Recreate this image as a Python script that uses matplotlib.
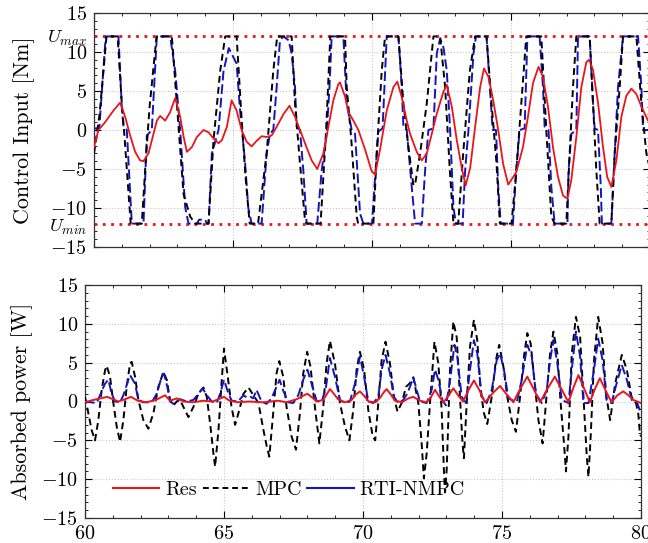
import matplotlib
matplotlib.use('Agg')
from matplotlib import pyplot as plt
from matplotlib.lines import Line2D
from matplotlib.ticker import MultipleLocator

plt.rcParams['font.family'] = 'serif'
plt.rcParams['font.serif'] = ['cmr10']
plt.rcParams['mathtext.fontset'] = 'cm'
plt.rcParams['axes.formatter.use_mathtext'] = True

# ---- top panel: control input [Nm] ----
t_u_res = [60.0, 60.16, 60.4, 60.7, 60.94, 61.12, 61.3, 61.48, 61.66, 61.78, 61.96, 62.14, 62.26, 62.38,
           62.56, 62.74, 62.92, 63.1, 63.22, 63.34, 63.52, 63.7, 63.94, 64.12, 64.3, 64.48, 64.6, 64.78,
           64.95, 65.13, 65.31, 65.49, 65.67, 65.85, 66.03, 66.21, 66.39, 66.57, 66.81, 67.03, 67.23,
           67.41, 67.59, 67.83, 68.03, 68.25, 68.43, 68.61, 68.79, 68.85, 69.03, 69.15, 69.33, 69.51,
           69.75, 69.99, 70.11, 70.29, 70.53, 70.77, 70.91, 71.07, 71.25, 71.37, 71.61, 71.79, 71.97,
           72.15, 72.33, 72.57, 72.69, 72.87, 73.05, 73.23, 73.37, 73.53, 73.71, 73.89, 74.03, 74.19,
           74.36, 74.54, 74.72, 74.9, 75.19, 75.43, 75.61, 75.79, 75.99, 76.15, 76.33, 76.51, 76.69,
           76.87, 77.03, 77.17, 77.35, 77.53, 77.71, 77.81, 77.95, 78.13, 78.31, 78.46, 78.61, 78.79,
           78.97, 79.15, 79.33, 79.51, 79.69, 79.93, 80.0]
u_res = [-2.2, 0.0, 1.0, 2.5, 3.5, 1.7, -0.7, -2.8, -3.9, -4.0, -3.0, -0.5, 1.2, 1.8,
         1.2, 2.3, 4.1, 1.7, -0.8, -2.8, -2.2, -0.9, 0.0, -0.3, -1.1, -1.7, -1.3, 0.4,
         3.8, 2.5, 0.0, -1.5, -2.1, -1.4, -0.8, -0.9, -0.7, 0.4, 2.0, 3.1, 1.7,
         0.0, -1.7, -3.9, -5.0, -3.0, 0.4, 3.8, 5.9, 6.1, 4.3, 2.3, 1.2, 0.0,
         -2.5, -5.3, -5.7, -2.5, 2.5, 5.5, 6.2, 4.2, 1.2, -0.5, -2.8, -3.9, -3.0,
         -0.5, 2.1, 4.9, 5.8, 3.0, -1.3, -4.9, -7.1, -4.9, 0.4, 5.5, 7.9, 6.8,
         3.8, 0.0, -4.4, -7.0, -5.4, -2.2, 1.7, 6.0, 8.1, 6.8, 3.0, -2.2, -6.0,
         -8.4, -8.8, -6.4, -0.9, 5.5, 8.7, 9.0, 7.7, 3.5, -2.2, -6.0, -7.3, -3.9,
         1.7, 4.4, 5.3, 4.6, 3.0, 1.2, 1.0]

t_u_mpc = [60.0, 60.2, 60.45, 60.85, 61.0, 61.1, 61.32, 61.72, 61.85, 62.0, 62.25, 62.8, 62.98, 63.22,
           63.46, 63.64, 64.12, 64.3, 64.54, 64.72, 65.13, 65.3, 65.45, 65.6, 65.9, 66.21, 66.45, 66.59,
           67.11, 67.23, 67.41, 67.59, 67.65, 68.15, 68.35, 68.5, 69.03, 69.09, 69.25, 69.45, 69.5,
           70.05, 70.17, 70.35, 70.47, 70.95, 71.13, 71.31, 71.49, 71.55, 71.73, 71.97, 72.21, 72.45,
           72.63, 72.8, 72.93, 73.1, 73.28, 73.52, 73.71, 74.12, 74.3, 74.48, 74.6, 75.02, 75.19, 75.37,
           75.55, 76.09, 76.27, 76.45, 76.57, 76.99, 77.11, 77.23, 77.35, 77.83, 77.95, 78.07, 78.19,
           78.61, 78.73, 78.91, 79.03, 79.51, 79.69, 79.87, 80.0]
u_mpc = [-3.0, 2.0, 12, 12, 3.4, -1.0, -12, -12, -4.5, 3.0, 12, 12, 3.4, -8.2,
         -11.1, -12, -12, -1.3, 7.6, 12, 12, 2.0, -6.0, -12, -12, -3.0, 7.6, 12,
         12, 3.4, -4.3, -11.6, -12, -12, 0.0, 12, 12, 5.5, -1.0, -11.1, -12,
         -12, -3.0, 7.6, 12, 12, 3.4, -2.2, -7.1, -7.0, -3.0, 3.4, 12, 12,
         5.5, -5.2, -12, -12, -3.0, 7.6, 12, 12, 3.4, -4.3, -12, -12, -5.2, 3.4,
         12, 12, 0.0, -11.1, -12, -12, -3.0, 5.5, 12, 12, 3.4, -5.2, -12,
         -12, -3.0, 5.5, 12, 12, 3.4, -3.0, -5.0]

t_u_rti = [60.0, 60.19, 60.42, 60.88, 61.0, 61.06, 61.18, 61.36, 61.78, 61.9, 62.08, 62.26, 62.74, 62.92,
           63.1, 63.28, 63.4, 63.7, 63.78, 64.0, 64.06, 64.12, 64.24, 64.48, 64.66, 64.85, 65.13, 65.25,
           65.43, 65.55, 65.67, 66.03, 66.21, 66.33, 66.45, 66.57, 66.69, 66.81, 67.0, 67.11, 67.23,
           67.29, 67.41, 67.53, 67.65, 68.03, 68.19, 68.37, 68.47, 68.55, 68.97, 69.09, 69.27, 69.39,
           69.57, 69.69, 70.0, 70.17, 70.23, 70.38, 70.53, 70.95, 71.07, 71.13, 71.25, 71.43, 71.55,
           71.79, 71.91, 72.03, 72.21, 72.33, 72.45, 72.57, 72.69, 72.81, 72.93, 73.02, 73.26, 73.35,
           73.47, 73.65, 73.74, 74.12, 74.24, 74.34, 74.46, 74.54, 74.63, 75.07, 75.19, 75.31, 75.49,
           75.59, 76.03, 76.15, 76.21, 76.35, 76.45, 76.57, 77.03, 77.07, 77.17, 77.35, 77.41, 77.83,
           77.95, 78.01, 78.13, 78.23, 78.27, 78.61, 78.73, 78.85, 79.03, 79.57, 79.69, 79.75, 80.0]
u_rti = [0.2, 0.2, 12, 12, 3.0, 0.4, 0.0, -12, -12, -0.7, 0.0, 12, 12, 7.6,
         0.0, -9.9, -12, -12, -11.5, -11.5, -12, -12, -3.0, 0.0, 7.6, 10.5, 8.5, 2.7,
         -4.0, -10.0, -12, -12, -3.0, -0.5, 0.0, 5.5, 11.5, 12, 11.5, 9.8, 5.5,
         0.4, 0.0, -5.2, -12, -12, -5.2, -0.5, 5.5, 12, 12, 3.4, 0.0, -0.5,
         -10.7, -12, -12, -3.0, -0.2, 0.2, 12, 12, 5.5, 0.4, 0.0, -7.3, -12,
         -12, -5.2, 0.0, 0.2, 9.8, 11.7, 10.6, 7.6, 0.0, -9.9, -12, -12, -5.2,
         0.0, 9.8, 12, 12, 5.5, 0.0, 0.0, -7.3, -12, -12, -5.2, 0.0, 0.2,
         12, 12, 5.5, 0.4, 0.0, -7.3, -12, -12, -5.2, -0.5, 0.0, 12, 12,
         3.4, 0.2, 0.0, -7.3, -12, -12, -3.0, 5.5, 12, 12, 5.5, 0.0, 0.0]

u_max = 12
u_min = -12

# ---- bottom panel: absorbed power [W] ----
t_p_res = [60.0, 60.3, 60.55, 60.8, 61.0, 61.2, 61.45, 61.65, 61.9, 62.2, 62.55, 62.88, 63.06, 63.3,
           63.55, 63.9, 64.25, 64.6, 64.8, 65.0, 65.2, 65.5, 65.9, 66.4, 66.95, 67.25, 67.62, 67.82,
           68.0, 68.18, 68.33, 68.57, 68.69, 68.81, 68.95, 69.1, 69.35, 69.59, 69.74, 69.89, 70.05,
           70.2, 70.45, 70.62, 70.75, 70.85, 71.0, 71.15, 71.4, 71.63, 71.81, 72.05, 72.29, 72.45,
           72.59, 72.75, 72.9, 73.1, 73.25, 73.42, 73.6, 73.8, 73.99, 74.18, 74.39, 74.7, 74.93, 75.15,
           75.41, 75.65, 75.91, 76.14, 76.37, 76.63, 76.9, 77.14, 77.39, 77.57, 77.75, 77.95, 78.16,
           78.34, 78.52, 78.73, 78.94, 79.15, 79.36, 79.55, 79.72, 80.0]
p_res = [-0.1, 0.2, 0.4, 0.6, 0.3, 0.0, 0.3, 0.6, 0.1, -0.1, 0.2, 0.8, 0.1, 0.4,
         0.0, -0.1, 0.1, 0.0, 0.3, 0.6, 0.1, -0.1, 0.0, -0.1, 0.1, -0.1, 0.3, 0.7,
         1.0, 0.5, 0.0, 0.2, 0.9, 1.6, 1.0, 0.3, -0.1, 0.2, 0.9, 1.3, 0.7,
         0.0, -0.1, 0.5, 1.2, 1.6, 0.9, 0.1, -0.1, 0.4, 0.6, 0.1, -0.1, 0.6,
         1.5, 0.6, -0.1, 0.9, 1.7, 0.8, 0.0, 1.5, 2.7, 1.5, -0.1, 1.2, 2.0, 1.0,
         -0.1, 1.6, 3.2, 1.6, -0.1, 1.6, 3.2, 1.6, -0.1, 1.8, 3.4, 1.7, -0.1,
         1.6, 3.0, 1.4, -0.1, 0.8, 1.3, 0.8, 0.2, -0.2]

t_p_mpc = [60.0, 60.12, 60.24, 60.36, 60.48, 60.6, 60.72, 60.78, 60.9, 61.02, 61.14, 61.26, 61.38, 61.5,
           61.62, 61.68, 61.8, 61.92, 62.1, 62.28, 62.46, 62.64, 62.82, 62.94, 63.06, 63.18, 63.3, 63.42,
           63.54, 63.72, 63.9, 64.08, 64.26, 64.38, 64.5, 64.62, 64.68, 64.8, 64.92, 65.0, 65.15, 65.27,
           65.4, 65.52, 65.7, 65.88, 66.06, 66.24, 66.42, 66.54, 66.63, 66.77, 66.89, 66.99, 67.13,
           67.25, 67.43, 67.59, 67.73, 67.85, 67.99, 68.11, 68.27, 68.43, 68.57, 68.69, 68.81, 68.99,
           69.17, 69.35, 69.51, 69.65, 69.77, 69.89, 70.04, 70.19, 70.35, 70.44, 70.55, 70.67, 70.81,
           70.97, 71.11, 71.24, 71.39, 71.55, 71.67, 71.81, 71.99, 72.11, 72.19, 72.29, 72.41, 72.57,
           72.71, 72.83, 72.91, 72.95, 73.01, 73.13, 73.25, 73.37, 73.49, 73.58, 73.63, 73.73, 73.85,
           73.99, 74.11, 74.23, 74.35, 74.47, 74.63, 74.78, 74.9, 75.05, 75.19, 75.35, 75.5, 75.65,
           75.79, 75.91, 76.03, 76.19, 76.31, 76.46, 76.58, 76.73, 76.85, 76.99, 77.11, 77.23, 77.3,
           77.39, 77.51, 77.66, 77.81, 77.93, 78.05, 78.11, 78.19, 78.31, 78.46, 78.62, 78.74, 78.89,
           79.07, 79.31, 79.49, 79.66, 79.82, 79.9, 79.96, 80.0]
p_mpc = [0.6, -1.5, -3.7, -5.0, -2.4, 1.5, 4.0, 4.6, 3.2, -0.2, -3.2, -5.2, -2.4, 1.9,
         4.9, 5.1, 3.2, 0.2, -2.4, -3.5, -1.5, 1.9, 3.8, 2.8, 0.2, -0.5, 0.0, 0.2,
         -0.7, -2.0, -0.7, 1.0, 1.8, 0.6, -2.8, -6.7, -8.4, -3.7, 2.8, 6.8, 2.8, -0.7,
         -3.0, -1.5, 1.0, 1.8, 0.8, -0.2, -3.7, -5.8, -7.1, -1.5, 3.6, 5.2, 3.2,
         -0.7, -4.5, -6.2, -1.5, 3.6, 6.4, 4.5, -0.7, -5.4, -0.7, 4.9, 7.8, 4.9,
         -0.2, -3.2, -5.0, -1.1, 4.1, 6.4, 4.1, -1.1, -4.5, -5.0, -0.2, 5.3, 7.7,
         4.9, 0.6, -1.3, -0.2, 1.9, 2.3, 3.1, -0.2, -5.4, -9.9, -6.7, -0.2, 7.7,
         4.9, -1.1, -8.8, -11.7, -8.8, 4.1, 10.3, 8.3, 0.6, -5.4, -7.3, -0.2, 7.1,
         10.5, 7.9, 1.5, -1.5, -2.9, 0.6, 5.3, 7.3, 4.5, 0.6, -2.4, -3.9, 0.6,
         5.8, 8.8, 7.5, 1.9, -2.4, -5.4, -0.2, 6.2, 9.0, 6.2, -0.2, -5.4, -9.0,
         -4.5, 6.2, 10.9, 8.3, 0.6, -7.1, -9.7, -4.5, 5.3, 10.9, 7.5, 1.0, -2.4,
         2.3, 6.0, 4.1, 0.6, -0.2, -1.5, -4.1, -4.5]

t_p_rti = [60.0, 60.42, 60.54, 60.72, 60.84, 60.96, 61.08, 61.26, 61.38, 61.56, 61.62, 61.8, 61.92, 62.1,
           62.4, 62.58, 62.76, 62.84, 62.96, 63.06, 63.18, 63.3, 63.42, 63.66, 63.9, 64.08, 64.23, 64.38,
           64.56, 64.74, 64.86, 65.0, 65.16, 65.28, 65.5, 65.7, 65.83, 65.96, 66.05, 66.17, 66.35,
           66.53, 66.71, 66.89, 67.0, 67.12, 67.31, 67.49, 67.67, 67.85, 68.0, 68.15, 68.33, 68.51,
           68.67, 68.81, 68.99, 69.17, 69.35, 69.53, 69.71, 69.89, 70.04, 70.19, 70.37, 70.55, 70.67,
           70.81, 70.97, 71.11, 71.27, 71.45, 71.59, 71.69, 71.81, 71.93, 72.05, 72.29, 72.47, 72.59,
           72.71, 72.87, 72.99, 73.15, 73.29, 73.39, 73.55, 73.71, 73.85, 73.99, 74.11, 74.27, 74.45,
           74.63, 74.81, 74.93, 75.07, 75.23, 75.53, 75.71, 75.91, 76.07, 76.22, 76.43, 76.61, 76.73,
           76.85, 76.99, 77.15, 77.39, 77.51, 77.66, 77.81, 77.93, 78.11, 78.31, 78.46, 78.62, 78.76,
           78.94, 79.12, 79.31, 79.49, 79.67, 79.84, 79.96, 80.0]
p_rti = [0.0, -0.2, 0.8, 2.3, 2.8, 1.0, 0.0, -0.1, 0.8, 2.8, 3.4, 2.3, 0.2, -0.1,
         -0.1, 1.0, 3.2, 3.6, 1.9, 0.0, -0.3, 0.1, 0.3, 0.0, 0.2, 1.0, 1.7, 0.8,
         0.0, -0.2, 1.0, 2.8, 1.0, 0.1, 0.0, 0.8, 0.5, 0.6, 0.4, 1.5, 0.0,
         -0.3, 0.4, 1.9, 2.8, 1.5, -0.1, -0.2, 0.8, 2.8, 4.1, 2.3, 0.1, -0.1,
         1.9, 5.6, 3.2, 0.2, -0.2, 0.0, 2.3, 5.8, 3.2, 0.0, -0.2, 0.6, 4.1,
         6.0, 3.6, 0.6, -0.2, 0.2, 1.0, 1.9, 3.1, 1.5, 0.0, -0.2, 1.5, 4.1,
         2.8, 0.0, -0.5, 3.2, 7.3, 5.8, 0.6, -0.2, 4.1, 7.9, 6.2, 0.6, -0.2,
         1.5, 5.3, 6.2, 4.1, 0.4, -0.1, 2.8, 7.3, 5.8, 1.0, -0.2, 1.5, 5.3,
         7.9, 4.9, 0.2, -0.2, 4.1, 9.0, 5.8, -0.2, -0.2, 4.1, 8.1, 5.3, 0.2,
         -0.2, 2.3, 4.7, 2.8, 0.2, 0.0, -1.1, -1.3]

c_res = '#e8161b'
c_mpc = 'black'
c_rti = '#1414c0'
dash_mpc = (0, (3.5, 2.2))
dash_rti = (0, (5, 2))


def style_axis(ax):
    ax.set_xlim(60, 80)
    ax.set_ylim(-15, 15)
    ax.xaxis.set_major_locator(MultipleLocator(5))
    ax.xaxis.set_minor_locator(MultipleLocator(1))
    ax.yaxis.set_major_locator(MultipleLocator(5))
    ax.yaxis.set_minor_locator(MultipleLocator(1))
    ax.tick_params(which='both', direction='in', top=True, right=True, labelsize=14.5, pad=5)
    ax.tick_params(which='major', length=5, width=0.8)
    ax.tick_params(which='minor', length=2.5, width=0.6)
    ax.grid(True, which='major', linestyle=':', color='#c8c8c8', linewidth=0.8)
    for sp in ax.spines.values():
        sp.set_linewidth(0.9)
        sp.set_color('#333333')


fig = plt.figure(figsize=(6.48, 5.43), dpi=100)
ax1 = fig.add_axes([94 / 648, 1 - 247 / 543, 556 / 648, 234 / 543])
ax2 = fig.add_axes([85 / 648, 1 - 518 / 543, 556 / 648, 233 / 543])

# top
style_axis(ax1)
ax1.set_xticklabels([])
ax1.axhline(u_max, color=c_res, linestyle=(0, (1, 2)), linewidth=2.0, zorder=2)
ax1.axhline(u_min, color=c_res, linestyle=(0, (1, 2)), linewidth=2.0, zorder=2)
ax1.plot(t_u_rti, u_rti, color=c_rti, linestyle=dash_rti, linewidth=1.4, zorder=3)
ax1.plot(t_u_mpc, u_mpc, color=c_mpc, linestyle=dash_mpc, linewidth=1.4, zorder=4)
ax1.plot(t_u_res, u_res, color=c_res, linewidth=1.3, zorder=5)
ax1.set_ylabel('Control Input [Nm]', fontsize=15.8)
ax1.yaxis.set_label_coords(-0.106, 0.5)
ax1.text(-0.012, u_max + 0.1, r'$U_{max}$', transform=ax1.get_yaxis_transform(),
         ha='right', va='center_baseline', fontsize=13.5)
ax1.text(-0.012, u_min - 0.1, r'$U_{min}$', transform=ax1.get_yaxis_transform(),
         ha='right', va='center_baseline', fontsize=13.5)

# bottom
style_axis(ax2)
ax2.plot(t_p_mpc, p_mpc, color=c_mpc, linestyle=dash_mpc, linewidth=1.4, zorder=3)
ax2.plot(t_p_rti, p_rti, color=c_rti, linestyle=dash_rti, linewidth=1.4, zorder=4)
ax2.plot(t_p_res, p_res, color=c_res, linewidth=1.4, zorder=5)
ax2.set_ylabel('Absorbed power [W]', fontsize=15.8)
ax2.yaxis.set_label_coords(-0.094, 0.5)

handles = [Line2D([], [], color=c_res, linewidth=1.5),
           Line2D([], [], color=c_mpc, linestyle=(0, (3, 2)), linewidth=1.4),
           Line2D([], [], color=c_rti, linewidth=1.5)]
ax2.legend(handles, ['Res', 'MPC', 'RTI-NMPC'], loc='lower left', ncol=3, frameon=False,
           fontsize=14.5, handlelength=2.3, handletextpad=0.3, columnspacing=0.3,
           borderaxespad=0, bbox_to_anchor=(0.035, 0.045))

fig.savefig('out.png', dpi=100)
